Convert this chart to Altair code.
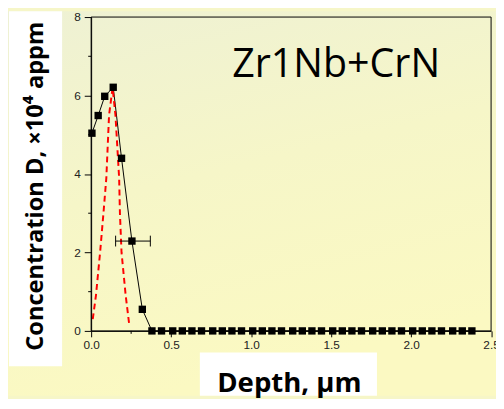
import altair as alt
import pandas as pd

# ---- data ----
depth = [0.005, 0.044, 0.085, 0.138, 0.19, 0.255, 0.32,
         0.38, 0.44, 0.51, 0.57, 0.63, 0.69, 0.76, 0.82, 0.88, 0.94,
         1.01, 1.07, 1.13, 1.19, 1.26, 1.32, 1.38, 1.44, 1.51, 1.57,
         1.63, 1.69, 1.76, 1.82, 1.88, 1.94, 2.01, 2.07, 2.13, 2.19,
         2.26, 2.32, 2.38]
conc = [5.04, 5.49, 5.98, 6.21, 4.40, 2.29, 0.55,
        0, 0, 0, 0, 0, 0, 0, 0, 0, 0,
        0, 0, 0, 0, 0, 0, 0, 0, 0, 0,
        0, 0, 0, 0, 0, 0, 0, 0, 0, 0,
        0, 0, 0]

fit_depth = [0.01, 0.03, 0.056, 0.077, 0.095, 0.112, 0.134, 0.152, 0.175, 0.18, 0.19, 0.216, 0.24]
fit_conc = [0.3, 0.9, 2.0, 3.0, 3.9, 5.5, 6.2, 5.5, 3.9, 3.0, 2.0, 0.9, 0.1]

err_depth = [0.255]
err_conc = [2.29]
err_lo = [0.153]
err_hi = [0.37]

x_major = [0.0, 0.5, 1.0, 1.5, 2.0, 2.5]
x_minor = [0.25, 0.75, 1.25, 1.75, 2.25]
y_major = [0, 2, 4, 6, 8]
y_minor = [1, 3, 5, 7]

title_text = "Zr1Nb+CrN"
x_title = "Depth, µm"
y_title = "Concentration D, ×10⁴ appm"

# ---- layout ----
W, H = 406.5, 319
PAD = {"left": 84.5, "top": 6, "right": 5, "bottom": 66}

xs = alt.Scale(domain=[0, 2.5], nice=False, zero=False)
ys = alt.Scale(domain=[0, 8], nice=False, zero=False)

xaxis = alt.Axis(values=x_major, format=".1f", title=None, grid=False,
                 labelFont="Liberation Sans", labelFontSize=12, labelColor="#222",
                 tickSize=6, tickColor="black", domainColor="black",
                 labelPadding=3, labelFlush=False, zindex=1)
yaxis = alt.Axis(values=y_major, format="d", title=None, grid=False,
                 labelFont="Liberation Sans", labelFontSize=12, labelColor="#222",
                 tickSize=7, tickColor="black", domainColor="black",
                 labelPadding=4, zindex=1)

def X(f):
    return alt.X(f, type="quantitative", scale=xs, axis=xaxis)

def Y(f):
    return alt.Y(f, type="quantitative", scale=ys, axis=yaxis)

one = pd.DataFrame({"a": [0]})

bg = alt.Chart(one).mark_rect(
    fill=alt.Gradient(gradient="linear",
                      stops=[alt.GradientStop(color="#EEF1D4", offset=0),
                             alt.GradientStop(color="#F6F6C8", offset=0.5),
                             alt.GradientStop(color="#FBF9C2", offset=1)],
                      x1=0, y1=0, x2=0.3, y2=1)
).encode(x=alt.value(-84.5), x2=alt.value(W + 5), y=alt.value(-6), y2=alt.value(H + 66))

ybox = alt.Chart(one).mark_rect(fill="white").encode(
    x=alt.value(-83.5), x2=alt.value(-29.5), y=alt.value(-6), y2=alt.value(355))
xbox = alt.Chart(one).mark_rect(fill="white").encode(
    x=alt.value(110.5), x2=alt.value(290.5), y=alt.value(341), y2=alt.value(H + 66))

main = pd.DataFrame({"x": depth, "y": conc})
fit = pd.DataFrame({"x": fit_depth, "y": fit_conc})
err = pd.DataFrame({"x": err_depth, "y": err_conc, "lo": err_lo, "hi": err_hi})
caps = pd.DataFrame({"x": err_lo + err_hi, "y": err_conc * 2})

line = alt.Chart(main).mark_line(color="black", strokeWidth=1).encode(x=X("x"), y=Y("y"))
fitl = alt.Chart(fit).mark_line(color="#FF0000", strokeWidth=2, strokeDash=[6, 4]).encode(
    x=X("x"), y=Y("y"))
pts = alt.Chart(main).mark_point(shape="square", filled=True, color="black", size=56, opacity=1).encode(
    x=X("x"), y=Y("y"))
ebar = alt.Chart(err).mark_rule(color="black", strokeWidth=1).encode(
    x=X("lo"), x2="hi", y=Y("y"))
ecap = alt.Chart(caps).mark_point(shape="M0,-1L0,1", filled=False, color="black",
                                  strokeWidth=1, size=121, opacity=1).encode(x=X("x"), y=Y("y"))

xminor = alt.Chart(pd.DataFrame({"x": x_minor})).mark_rule(color="black").encode(
    x=X("x"), y=alt.value(H), y2=alt.value(H + 3))
yminor = alt.Chart(pd.DataFrame({"y": y_minor})).mark_rule(color="black").encode(
    y=Y("y"), x=alt.value(0), x2=alt.value(-3))

frame = alt.Chart(one).mark_rect(filled=False, stroke="black", strokeWidth=1).encode(
    x=alt.value(0), x2=alt.value(W), y=alt.value(0), y2=alt.value(H))

ttl = alt.Chart(one).mark_text(text=title_text, font="Open Sans", fontSize=40,
                               color="black", align="center", baseline="alphabetic").encode(
    x=alt.value(249), y=alt.value(61))
xt = alt.Chart(one).mark_text(text=x_title, font="Open Sans", fontSize=28, fontWeight="bold",
                              color="black", align="center", baseline="alphabetic").encode(
    x=alt.value(201.5), y=alt.value(381))
yt = alt.Chart(one).mark_text(text=y_title, font="Open Sans", fontSize=24, fontWeight="bold",
                              color="black", align="center", baseline="alphabetic", angle=270).encode(
    x=alt.value(-48.5), y=alt.value(172))

chart = alt.layer(bg, ybox, xbox, line, fitl, pts, ebar, ecap, xminor, yminor, frame, ttl, xt, yt).properties(
    width=W, height=H,
    autosize=alt.AutoSizeParams(type="none"),
    padding=PAD,
    background="#F6F6C8",
).configure_view(stroke="transparent")

chart.save("out.html", embed_options={"renderer": "svg", "actions": False})
